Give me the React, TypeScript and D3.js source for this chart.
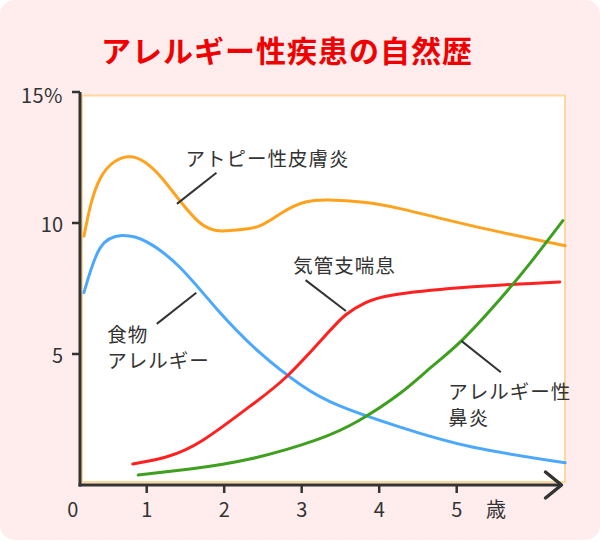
import React from "react";
import * as d3 from "d3";

const TITLE = "アレルギー性疾患の自然歴";
const X_TICKS = [1, 2, 3, 4, 5];
const Y_TICKS = [5, 10];
const Y_TOP_LABEL = "15%";
const X_UNIT = "歳";

// [age, %]
const atopy: [number, number][] = [
  [0.19, 9.5], [0.4, 11.7], [0.78, 12.53], [1.2, 11.7], [1.69, 10.0], [2.1, 9.72],
  [2.45, 9.88], [2.75, 10.4], [3.05, 10.8], [3.35, 10.88], [3.8, 10.79], [4.27, 10.55],
  [4.9, 10.1], [5.55, 9.66], [6.4, 9.13],
];
const food: [number, number][] = [
  [0.19, 7.34], [0.4, 9.05], [0.68, 9.52], [1.0, 9.28], [1.43, 8.3], [1.91, 6.7],
  [2.46, 5.05], [3.0, 3.8], [3.49, 3.02], [4.27, 2.21], [5.2, 1.45], [6.4, 0.85],
];
const asthma: [number, number][] = [
  [0.82, 0.8], [1.26, 1.08], [1.73, 1.72], [2.33, 3.0], [2.81, 4.15], [3.32, 5.75],
  [3.57, 6.5], [3.82, 6.95], [4.18, 7.25], [5.04, 7.53], [6.33, 7.75],
];
const rhinitis: [number, number][] = [
  [0.89, 0.38], [1.56, 0.61], [2.33, 0.99], [3.19, 1.72], [3.75, 2.48], [4.27, 3.5],
  [4.66, 4.47], [5.06, 5.5], [5.55, 7.06], [5.94, 8.44], [6.37, 10.09],
];

const SERIES = [
  { name: "atopy", data: atopy, color: "#ffa31f" },
  { name: "food", data: food, color: "#4ca8ff" },
  { name: "asthma", data: asthma, color: "#ff2020" },
  { name: "rhinitis", data: rhinitis, color: "#3f9f1f" },
];

// labels: lines of text, anchor in data units, leader from/to in data units
const LABELS = [
  { lines: ["アトピー性皮膚炎"], at: [1.5, 12.5], leader: [[1.39, 10.73], [1.9, 11.92]] },
  { lines: ["食物", "アレルギー"], at: [0.49, 5.77], leader: [[1.64, 7.34], [1.13, 6.15]] },
  { lines: ["気管支喘息"], at: [2.89, 8.4], leader: [[3.57, 6.64], [3.05, 7.82]] },
  { lines: ["アレルギー性", "鼻炎"], at: [4.89, 3.62], leader: [[5.06, 5.5], [5.57, 4.3]] },
];

const W = 600;
const H = 542;
const FONT = "'Noto Sans CJK JP', 'Noto Sans', sans-serif";

export default function App() {
  const x = d3.scaleLinear().domain([0, 6]).range([69.2, 534.2]);
  const y = d3.scaleLinear().domain([0, 15]).range([485, 92]);
  const line = d3
    .line<[number, number]>()
    .x((d) => x(d[0]))
    .y((d) => y(d[1]))
    .curve(d3.curveNatural);

  const axisX = 80;
  const axisY = y(0);
  const arrowTip = 561.5;

  return (
    <svg
      width={W}
      height={H}
      style={{ position: "absolute", left: 0, top: 0, background: "#fff" }}
      fontFamily={FONT}
    >
      <rect x={0} y={0} width={600} height={540} rx={15} fill="#ffeded" />
      <text
        x={287}
        y={49}
        textAnchor="middle"
        dominantBaseline="central"
        fontSize={30}
        fontWeight="bold"
        fill="#f00000"
        letterSpacing={1}
      >
        {TITLE}
      </text>
      {/* plot area */}
      <rect x={82} y={95.5} width={483} height={386.5} fill="#fff" stroke="#ffd69c" strokeWidth={2} />
      {/* series */}
      {SERIES.map((s) => (
        <path key={s.name} d={line(s.data) || ""} fill="none" stroke={s.color} strokeWidth={3} strokeLinecap="round" />
      ))}
      {/* leaders */}
      {LABELS.map((l, i) => (
        <line
          key={"ld" + i}
          x1={x(l.leader[0][0])}
          y1={y(l.leader[0][1])}
          x2={x(l.leader[1][0])}
          y2={y(l.leader[1][1])}
          stroke="#333"
          strokeWidth={2}
        />
      ))}
      {LABELS.map((l, i) =>
        l.lines.map((t, j) => (
          <text
            key={"lb" + i + "_" + j}
            x={x(l.at[0])}
            y={y(l.at[1]) + j * 26}
            dominantBaseline="central"
            fontSize={19.5}
            letterSpacing={1}
            fill="#333"
          >
            {t}
          </text>
        ))
      )}
      {/* y axis */}
      <line x1={axisX} y1={y(15)} x2={axisX} y2={axisY + 1.5} stroke="#333" strokeWidth={3} />
      <line x1={72} y1={y(15)} x2={axisX} y2={y(15)} stroke="#333" strokeWidth={2.5} />
      {Y_TICKS.map((t) => (
        <g key={"yt" + t}>
          <line x1={72} y1={y(t)} x2={axisX} y2={y(t)} stroke="#333" strokeWidth={2.5} />
          <text x={63} y={y(t)} textAnchor="end" dominantBaseline="central" fontSize={20} fill="#333">
            {t}
          </text>
        </g>
      ))}
      <text x={63} y={y(15) + 2} textAnchor="end" dominantBaseline="central" fontSize={20} fill="#333" letterSpacing={0.5}>
        {Y_TOP_LABEL}
      </text>
      {/* x axis */}
      <line x1={axisX - 1.5} y1={axisY} x2={arrowTip} y2={axisY} stroke="#333" strokeWidth={3} />
      <path
        d={`M${arrowTip - 16},${axisY - 13} L${arrowTip},${axisY} L${arrowTip - 16},${axisY + 13}`}
        fill="none"
        stroke="#333"
        strokeWidth={3.5}
        strokeLinecap="round"
        strokeLinejoin="round"
      />
      {X_TICKS.map((t) => (
        <g key={"xt" + t}>
          <line x1={x(t)} y1={axisY} x2={x(t)} y2={axisY + 8} stroke="#333" strokeWidth={2.5} />
          <text x={x(t)} y={508} textAnchor="middle" dominantBaseline="central" fontSize={20} fill="#333">
            {t}
          </text>
        </g>
      ))}
      <text x={x(0) + 3.5} y={508} textAnchor="middle" dominantBaseline="central" fontSize={20} fill="#333">
        0
      </text>
      <text x={496} y={508} textAnchor="middle" dominantBaseline="central" fontSize={20} fill="#333">
        {X_UNIT}
      </text>
    </svg>
  );
}
